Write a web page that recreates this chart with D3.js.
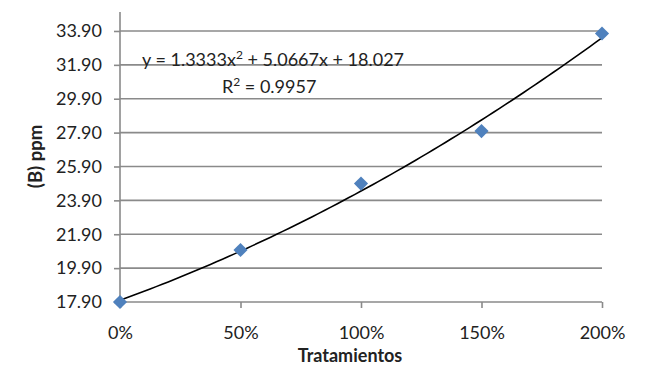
<!DOCTYPE html>
<html>
<head>
<meta charset="utf-8">
<script src="https://cdn.jsdelivr.net/npm/d3@7"></script>
<style>
  body { margin: 0; background: #fff; }
  text { font-family: Lato, "Open Sans", sans-serif; fill: #222; }
</style>
</head>
<body>
<div id="chart"></div>
<script>
const categories = ["0%", "50%", "100%", "150%", "200%"];
const ppm = [17.90, 20.97, 24.89, 27.99, 33.75];
const yTicks = [17.9, 19.9, 21.9, 23.9, 25.9, 27.9, 29.9, 31.9, 33.9];
// equation label parts: [text, superscript?]
const equationParts = [["y = 1.3333x", false], ["2", true], [" + 5.0667x + 18.027", false]];
const rSquaredParts = [["R", false], ["2", true], [" = 0.9957", false]];

const width = 651, height = 368;
const margin = ({top: 12, right: 49, bottom: 66, left: 120});
const fontSize = 18;

const svg = d3.select("#chart").append("svg")
  .attr("width", width).attr("height", height);

const xscale = d3.scaleLinear()
  .domain([0, categories.length - 1])
  .range([margin.left, width - margin.right]);

const yscale = d3.scaleLinear()
  .domain([17.9, 35.02])
  .range([height - margin.bottom, margin.top]);

// gridlines
svg.append("g")
  .selectAll("line")
  .data(yTicks.slice(1))
  .join("line")
  .attr("x1", xscale(0)).attr("x2", xscale(4))
  .attr("y1", d => yscale(d)).attr("y2", d => yscale(d))
  .attr("stroke", "#8a8a8a").attr("stroke-width", 1.6);

const yAxis = g => g
  .attr("transform", `translate(${margin.left},0)`)
  .call(d3.axisLeft(yscale).tickValues(yTicks).tickFormat(d3.format(".2f")).tickSize(6).tickPadding(12))
  .call(g => g.select(".domain").attr("d", `M-6,${yscale(17.9)}H0V${margin.top}`))
  .call(g => g.selectAll("line, path").attr("stroke", "#8a8a8a").attr("stroke-width", 1.6))
  .call(g => g.selectAll("text").attr("font-size", fontSize).attr("font-family", "Lato, sans-serif").attr("fill", "#222"));

const xAxis = g => g
  .attr("transform", `translate(0,${height - margin.bottom})`)
  .call(d3.axisBottom(xscale).tickValues(d3.range(categories.length)).tickFormat(i => categories[i]).tickSize(6))
  .call(g => g.select(".domain").attr("d", `M${xscale(0)},0H${xscale(4)}`))
  .call(g => g.selectAll("line, path").attr("stroke", "#8a8a8a").attr("stroke-width", 1.6))
  .call(g => g.selectAll("text").attr("font-size", fontSize).attr("font-family", "Lato, sans-serif")
    .attr("fill", "#222").attr("y", 37).attr("dy", null));

svg.append("g").call(yAxis);
svg.append("g").call(xAxis);

// quadratic least-squares trendline through the points
const fitQuadratic = (xs, ys) => {
  const n = xs.length;
  const s = k => d3.sum(xs, x => Math.pow(x, k));
  const sy = k => d3.sum(xs, (x, i) => Math.pow(x, k) * ys[i]);
  const A = [[n, s(1), s(2)], [s(1), s(2), s(3)], [s(2), s(3), s(4)]];
  const B = [sy(0), sy(1), sy(2)];
  for (let i = 0; i < 3; i++) {
    for (let j = i + 1; j < 3; j++) {
      const f = A[j][i] / A[i][i];
      for (let k = i; k < 3; k++) A[j][k] -= f * A[i][k];
      B[j] -= f * B[i];
    }
  }
  const c = [0, 0, 0];
  for (let i = 2; i >= 0; i--) {
    let v = B[i];
    for (let k = i + 1; k < 3; k++) v -= A[i][k] * c[k];
    c[i] = v / A[i][i];
  }
  return x => c[0] + c[1] * x + c[2] * x * x;
};

const xs = d3.range(ppm.length);
const trend = fitQuadratic(xs, ppm);
const trendPts = d3.range(0, 4.0001, 0.05).map(x => ({x, y: trend(x)}));

svg.append("path")
  .datum(trendPts)
  .attr("fill", "none")
  .attr("stroke", "#000")
  .attr("stroke-width", 1.6)
  .attr("d", d3.line().x(d => xscale(d.x)).y(d => yscale(d.y)));

// markers
svg.append("g")
  .attr("fill", "#4f81bd")
  .selectAll("path")
  .data(ppm)
  .join("path")
  .attr("d", d3.symbol(d3.symbolSquare, 100))
  .attr("transform", (d, i) => `translate(${xscale(i)},${yscale(d)}) rotate(45)`);

// trendline labels with superscripts
const label = (parts, x, y) => {
  const t = svg.append("text").attr("x", x).attr("y", y).attr("font-size", fontSize);
  parts.forEach(([s, sup]) => {
    t.append("tspan")
      .attr("font-size", sup ? 12 : fontSize)
      .attr("baseline-shift", sup ? "55%" : null)
      .text(s);
  });
};
label(equationParts, 142, 66);
label(rSquaredParts, 222, 93);

// axis titles
svg.append("text")
  .attr("x", 350).attr("y", 362)
  .attr("text-anchor", "middle")
  .attr("font-size", 18)
  .attr("font-weight", "bold")
  .text("Tratamientos");

svg.append("text")
  .attr("transform", "translate(42,156.5) rotate(-90)")
  .attr("text-anchor", "middle")
  .attr("font-size", 18.5)
  .attr("font-weight", "bold")
  .text("(B) ppm");
</script>
</body>
</html>
